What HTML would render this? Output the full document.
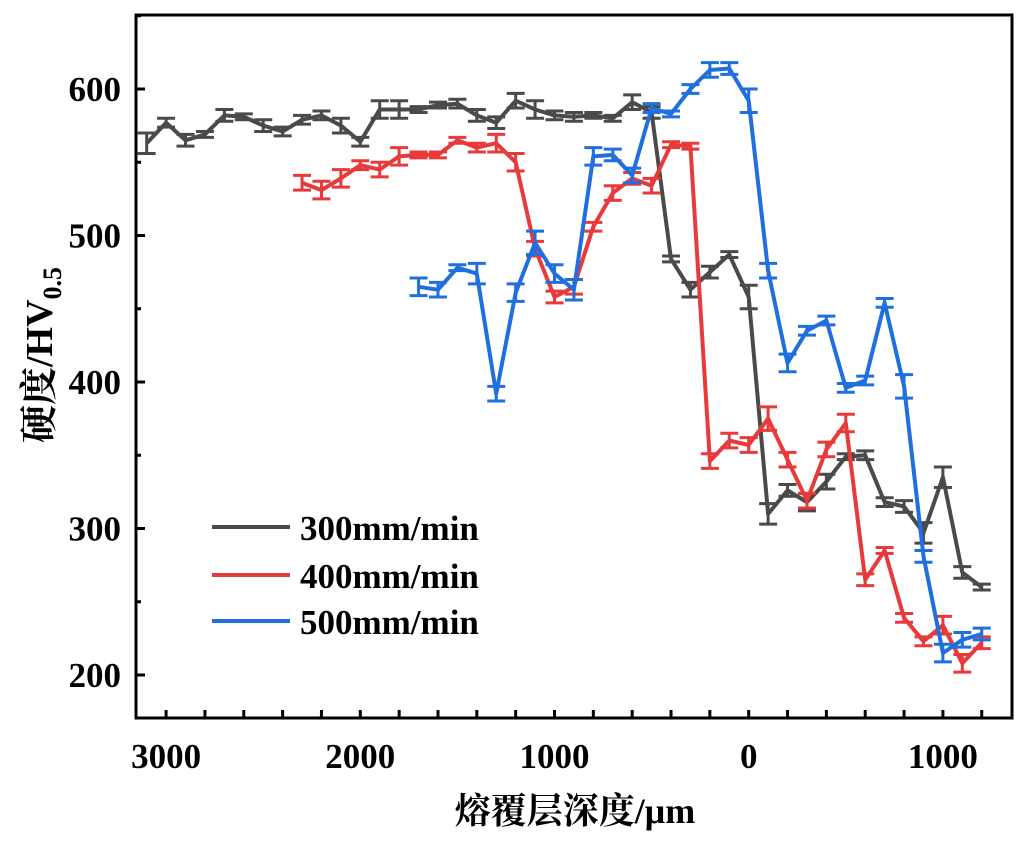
<!DOCTYPE html>
<html><head><meta charset="utf-8"><style>
body{margin:0;background:#fff;}
svg text{font-family:"Liberation Serif","Noto Serif CJK SC",serif;font-weight:bold;fill:#000;}
</style></head><body>
<svg id="chart" width="1028" height="841" xmlns="http://www.w3.org/2000/svg"></svg>
<script>
const depths = [-3100,-3000,-2900,-2800,-2700,-2600,-2500,-2400,-2300,-2200,-2100,-2000,-1900,-1800,-1700,-1600,-1500,-1400,-1300,-1200,-1100,-1000,-900,-800,-700,-600,-500,-400,-300,-200,-100,0,100,200,300,400,500,600,700,800,900,1000,1100,1200];
const s300 = [563,577,565,569,582,581,575,571,579,582,575,564,586,586,586,589,590,582,577,592,586,582,581,582,580,591,584,484,463,475,487,458,310,326,318,332,349,350,318,315,297,335,270,260];
const s300err = [7,3,4,2,4,2,4,3,3,3,5,3,6,6,2,2,3,4,4,5,6,3,3,2,2,5,4,2,5,4,2,8,7,4,6,5,2,3,3,4,7,7,4,2];
const red_depths = [-2300,-2200,-2100,-2000,-1900,-1800,-1700,-1600,-1500,-1400,-1300,-1200,-1100,-1000,-900,-800,-700,-600,-500,-400,-300,-200,-100,0,100,200,300,400,500,600,700,800,900,1000,1100,1200];
const s400 = [536,531,539,548,545,554,555,555,565,560,563,550,491,458,465,506,529,539,534,562,561,346,360,357,375,347,319,354,372,265,285,239,223,234,208,222];
const s400err = [5,6,6,3,5,6,2,2,2,3,6,6,5,4,5,3,5,4,5,2,2,5,5,5,8,5,5,5,6,4,2,3,3,6,6,4];
const blue_depths = [-1700,-1600,-1500,-1400,-1300,-1200,-1100,-1000,-900,-800,-700,-600,-500,-400,-300,-200,-100,0,100,200,300,400,500,600,700,800,900,1000,1100,1200];
const s500 = [465,463,478,474,392,461,495,474,463,554,555,541,587,583,600,613,614,592,476,413,435,442,396,401,454,397,281,215,224,228];
const s500err = [6,5,2,7,5,6,8,6,7,6,4,5,3,2,3,5,4,8,5,6,3,3,3,3,3,8,4,6,5,4];
const yTicks = [200,300,400,500,600];
const xTickVals = [-3000,-2000,-1000,0,1000];
const xTickLabels = ["3000","2000","1000","0","1000"];

const NS="http://www.w3.org/2000/svg";
const svg=document.getElementById('chart');
const L=136,R=1012,T=15,B=718;
const X=u=>748.7+u*0.1942;
const Y=v=>89+(600-v)*1.465;
function mk(tag,attrs,parent){const e=document.createElementNS(NS,tag);for(const k in attrs)e.setAttribute(k,attrs[k]);(parent||svg).appendChild(e);return e;}

function drawSeries(xs,ys,es,color,name){
  const g=mk('g',{});
  
  
  const pts=xs.map((u,i)=>X(u).toFixed(1)+','+Y(ys[i]).toFixed(1)).join(' ');
  const pl=mk('polyline',{points:pts,fill:'none',stroke:color,'stroke-width':4,'stroke-linejoin':'round'},g);
  
  
  xs.forEach((u,i)=>{
    const x=X(u),y1=Y(ys[i]+es[i]),y2=Y(ys[i]-es[i]);
    const eb=mk('path',{d:`M${x-9},${y1}H${x+9}M${x},${y1}V${y2}M${x-9},${y2}H${x+9}`,stroke:color,'stroke-width':3,fill:'none'},g);
    
    
  });
}
drawSeries(depths,s300,s300err,'#4a4a4a','series-300');
drawSeries(red_depths,s400,s400err,'#e8393b','series-400');
drawSeries(blue_depths,s500,s500err,'#1f6fdf','series-500');

const fr=mk('rect',{x:L,y:T,width:R-L,height:B-T,fill:'none',stroke:'#000','stroke-width':3});


for(let v=200;v<=650;v+=50){
  const major=v%100===0;
  mk('line',{x1:L,x2:L+(major?9:5),y1:Y(v),y2:Y(v),stroke:'#000','stroke-width':3});
}
yTicks.forEach(v=>{
  const t=mk('text',{x:121,y:Y(v)+12,'text-anchor':'end','font-size':35});
  t.textContent=v;
  
  
});
for(let u=-3000;u<=1300;u+=200){
  mk('line',{x1:X(u),x2:X(u),y1:B,y2:B-8,stroke:'#000','stroke-width':3});
}
xTickVals.forEach((u,i)=>{
  const t=mk('text',{x:X(u),y:768,'text-anchor':'middle','font-size':35});
  t.textContent=xTickLabels[i];
  
  
});
</script>
<svg style="position:absolute;left:0;top:0" width="1028" height="841">
<text x="575" y="823" text-anchor="middle" font-size="36" font-family="Liberation Serif, Noto Serif CJK SC, serif" font-weight="bold">熔覆层深度/μm</text>
<text transform="translate(52,355) rotate(-90)" text-anchor="middle" font-size="38" font-family="Liberation Serif, Noto Serif CJK SC, serif" font-weight="bold">硬度/HV<tspan font-size="26" dy="9">0.5</tspan></text>
<g font-family="Liberation Serif, serif" font-weight="bold" font-size="35">
<line x1="212" x2="290" y1="527" y2="527" stroke="#4a4a4a" stroke-width="4"/>
<text x="300" y="540">300mm/min</text>
<line x1="212" x2="290" y1="575" y2="575" stroke="#e8393b" stroke-width="4"/>
<text x="300" y="588">400mm/min</text>
<line x1="212" x2="290" y1="621" y2="621" stroke="#1f6fdf" stroke-width="4"/>
<text x="300" y="634">500mm/min</text>
</g>
</svg>
</body></html>
